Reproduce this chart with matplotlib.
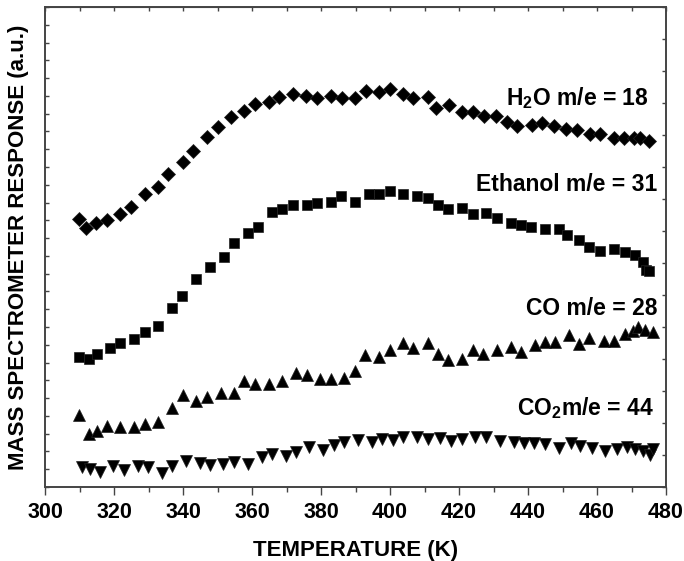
import numpy as np
import matplotlib
matplotlib.use('Agg')
import matplotlib.pyplot as plt

plt.rcParams['font.family'] = ['Liberation Sans', 'DejaVu Sans']
plt.rcParams['mathtext.fontset'] = 'custom'
plt.rcParams['mathtext.rm'] = 'Liberation Sans:bold'
plt.rcParams['mathtext.bf'] = 'Liberation Sans:bold'

# H2O m/e = 18 (diamonds)
t_h2o = [309.9, 311.8, 314.7, 317.9, 321.8, 324.8, 329.0, 332.8, 335.7, 339.9,
         343.0, 346.9, 350.0, 353.8, 357.8, 360.9, 364.9, 367.8, 371.8, 375.7,
         378.9, 382.9, 386.0, 389.9, 392.9, 396.8, 400.0, 403.7, 406.8, 411.1,
         413.4, 417.0, 420.8, 424.2, 427.1, 430.7, 433.9, 436.9, 441.1, 444.0,
         447.6, 451.1, 454.2, 458.0, 460.9, 464.8, 467.7, 470.6, 472.5, 475.2]
s_h2o = [15.06, 14.59, 14.87, 15.02, 15.37, 15.77, 16.48, 16.86, 17.61, 18.28,
         18.92, 19.67, 20.27, 20.80, 21.17, 21.54, 21.64, 21.92, 22.11, 21.99,
         21.86, 21.99, 21.86, 21.86, 22.28, 22.24, 22.40, 22.11, 21.86, 21.95,
         21.34, 21.47, 21.11, 21.11, 20.87, 20.87, 20.55, 20.31, 20.36, 20.46,
         20.31, 20.15, 20.08, 19.86, 19.86, 19.61, 19.61, 19.61, 19.61, 19.48]

# Ethanol m/e = 31 (squares)
t_eth = [309.9, 312.8, 315.0, 318.8, 321.8, 325.8, 329.0, 332.8, 336.9, 339.8,
         343.8, 347.8, 351.9, 354.9, 358.9, 361.8, 365.9, 368.8, 371.8, 375.9,
         378.9, 382.9, 385.8, 389.9, 394.0, 396.9, 399.9, 403.9, 407.9, 410.9,
         413.8, 416.9, 421.0, 424.0, 427.8, 430.9, 435.0, 438.0, 440.9, 444.9,
         449.0, 451.2, 454.9, 457.8, 460.9, 465.0, 468.1, 471.0, 473.3, 474.2,
         475.2]
s_eth = [7.30, 7.22, 7.48, 7.84, 8.10, 8.31, 8.70, 9.07, 10.05, 10.76,
         11.70, 12.36, 12.92, 13.71, 14.30, 14.63, 15.49, 15.62, 15.85, 15.88,
         15.96, 16.01, 16.37, 16.03, 16.47, 16.47, 16.63, 16.48, 16.37, 16.24,
         15.86, 15.64, 15.68, 15.36, 15.43, 15.11, 14.83, 14.74, 14.61, 14.51,
         14.50, 14.18, 13.89, 13.52, 13.29, 13.37, 13.24, 13.05, 12.67, 12.21,
         12.17]

# CO m/e = 28 (up triangles)
t_co = [309.9, 312.8, 315.0, 318.1, 321.8, 325.8, 329.0, 332.8, 336.9, 339.9,
        343.8, 346.9, 350.9, 354.8, 357.8, 360.9, 364.9, 368.8, 372.8, 375.9,
        379.7, 382.9, 386.8, 389.9, 392.8, 396.9, 399.9, 403.9, 406.8, 410.9,
        413.8, 416.9, 420.8, 424.0, 426.9, 430.9, 435.0, 438.0, 441.9, 444.9,
        447.8, 451.9, 454.9, 457.8, 461.9, 465.0, 468.0, 470.4, 472.0, 473.9,
        476.2]
s_co = [4.05, 2.98, 3.15, 3.43, 3.39, 3.39, 3.54, 3.64, 4.43, 5.18,
        4.84, 5.08, 5.30, 5.27, 5.98, 5.79, 5.79, 5.98, 6.40, 6.30,
        6.08, 6.08, 6.11, 6.53, 7.41, 7.30, 7.71, 8.12, 7.80, 8.08,
        7.46, 7.14, 7.20, 7.71, 7.46, 7.71, 7.89, 7.61, 7.99, 8.17,
        8.14, 8.55, 8.04, 8.36, 8.23, 8.23, 8.59, 8.79, 8.98, 8.83,
        8.70]

# CO2 m/e = 44 (down triangles)
t_co2 = [310.6, 313.0, 315.9, 319.8, 322.9, 326.9, 329.9, 333.8, 336.9, 340.8,
         344.9, 347.8, 351.7, 354.8, 358.9, 362.8, 365.9, 369.8, 372.8, 376.6,
         380.7, 383.8, 386.8, 390.8, 394.7, 397.6, 400.8, 403.9, 407.9, 411.1,
         414.5, 417.6, 420.8, 424.7, 427.8, 431.9, 435.8, 438.9, 441.6, 444.9,
         449.1, 452.4, 455.1, 458.5, 462.3, 465.9, 468.6, 471.0, 473.4, 475.4,
         476.2]
s_co2 = [1.11, 1.00, 0.86, 1.18, 0.96, 1.18, 1.14, 0.77, 1.18, 1.46,
         1.37, 1.24, 1.29, 1.42, 1.29, 1.70, 1.86, 1.76, 1.99, 2.23,
         2.08, 2.36, 2.55, 2.64, 2.55, 2.68, 2.64, 2.80, 2.83, 2.68,
         2.74, 2.60, 2.68, 2.80, 2.80, 2.60, 2.55, 2.46, 2.46, 2.42,
         2.18, 2.46, 2.31, 2.18, 2.04, 2.12, 2.23, 2.12, 2.04, 1.80,
         2.12]

fig = plt.figure(figsize=(6.84, 5.61), dpi=100)
ax = fig.add_axes([0.0658, 0.1319, 0.9079, 0.8556])

ax.plot(t_h2o, s_h2o, 'D', color='black', ms=7.5, mec='#222222', mew=0.5)
ax.plot(t_eth, s_eth, 's', color='black', ms=7, mec='#222222', mew=0.5)
ax.plot(t_co, s_co, '^', color='black', ms=8, mec='#222222', mew=0.5)
ax.plot(t_co2, s_co2, 'v', color='black', ms=8, mec='#222222', mew=0.5)

lab = dict(fontsize=16.5, fontweight='bold', ha='right', va='baseline')
ax.text(475.1, 21.49, r'H$_{2}$O m/e = 18', **lab)
ax.text(477.6, 16.67, 'Ethanol m/e = 31', **lab)
ax.text(477.6, 9.68, 'CO m/e = 28', **lab)
ax.text(476.4, 4.05, r'CO$_{2}$m/e = 44', **lab)

ax.set_xlim(300, 480)
ax.set_ylim(0, 27)
ax.set_xticks(np.arange(300, 481, 20))
ax.set_xticks(np.arange(310, 480, 20), minor=True)
ax.set_yticks(np.arange(0, 28, 1))
ax.set_yticklabels([])
ax.tick_params(axis='x', which='major', direction='out', length=6, width=1,
               labelsize=15.5, color='#444444', pad=5)
ax.tick_params(axis='x', which='minor', direction='out', length=3.5, width=1,
               color='#444444')
ax.tick_params(axis='y', direction='in', length=3, width=1, color='#444444')
for lb in ax.get_xticklabels():
    lb.set_fontweight('bold')

top = ax.secondary_xaxis('top')
top.set_xticks(np.arange(300, 481, 10))
top.tick_params(direction='in', length=3, width=1, labeltop=False, color='#444444')

right = ax.twinx()
right.set_ylim(0, 15)
right.set_yticks(np.arange(0, 16, 1))
right.set_yticklabels([])
right.tick_params(direction='in', length=3, width=1, color='#444444')

for a in (ax, right):
    for sp in a.spines.values():
        sp.set_color('#444444')
        sp.set_linewidth(1.2)
top.spines['top'].set_color('#444444')

ax.set_xlabel('TEMPERATURE (K)', fontsize=16, fontweight='bold', labelpad=12)
ax.set_ylabel('MASS SPECTROMETER RESPONSE (a.u.)', fontsize=16, fontweight='bold',
              labelpad=8)

fig.savefig('out.png', dpi=100)
